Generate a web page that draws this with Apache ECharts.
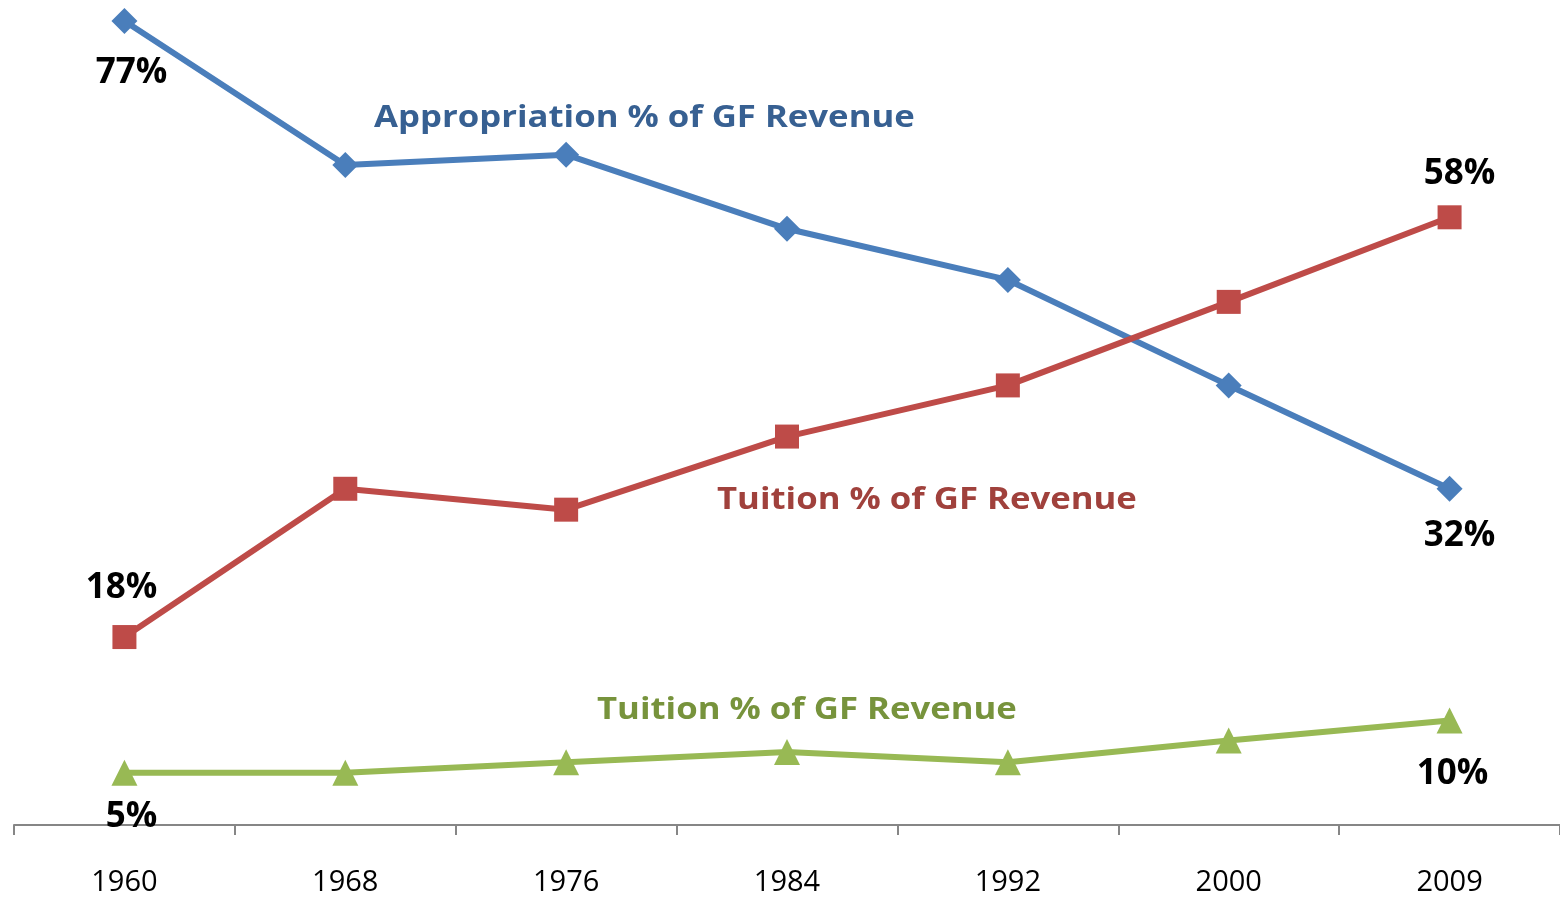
<!DOCTYPE html>
<html><head><meta charset="utf-8">
<script src="https://cdn.jsdelivr.net/npm/echarts@6/dist/echarts.min.js"></script>
<style>html,body{margin:0;padding:0;background:#fff}#c{width:1560px;height:897px}</style>
</head><body><div id="c"></div>
<script>
const years = ['1960','1968','1976','1984','1992','2000','2009'];
const appropriation = [77, 63.2, 64.2, 57.1, 52.2, 42.1, 32.2];
const tuition = [18, 32.2, 30.2, 37.2, 42.1, 50.1, 58.2];
const other = [5, 5, 6, 7, 6, 8.1, 10];
const endLabels = {
  appropriation: ['77%', '32%'],
  tuition: ['18%', '58%'],
  other: ['5%', '10%']
};
const FONT = '"Open Sans"';
function withLabels(vals, labels, first, last){
  return vals.map((v,i)=>{
    if(i===0) return {value:v,label:Object.assign({show:true,formatter:labels[0]},first)};
    if(i===vals.length-1) return {value:v,label:Object.assign({show:true,formatter:labels[1]},last)};
    return v;
  });
}
const labelStyle = {color:'#000',fontFamily:FONT,fontWeight:'bold',fontSize:35};
const chart = echarts.init(document.getElementById('c'));
chart.setOption({
  animation:false,
  grid:{left:14,right:0,top:21,bottom:71,containLabel:false},
  xAxis:{type:'category',data:years,boundaryGap:true,
    axisLine:{lineStyle:{color:'#868686',width:2}},
    axisTick:{show:true,length:10,alignWithLabel:false,lineStyle:{color:'#868686',width:2}},
    axisLabel:{color:'#000',fontFamily:FONT,fontSize:29,margin:43}},
  yAxis:{type:'value',min:0,max:77,show:false,splitLine:{show:false}},
  series:[
    {type:'line',name:'Appropriation % of GF Revenue',
     data:withLabels(appropriation,endLabels.appropriation,
       {position:'bottom',distance:22,offset:[7,0]},{position:'bottom',distance:17,offset:[10,0]}),
     symbol:'diamond',symbolSize:26,lineStyle:{color:'#4A7EBB',width:6},itemStyle:{color:'#4A7EBB'},label:labelStyle},
    {type:'line',name:'Tuition % of GF Revenue',
     data:withLabels(tuition,endLabels.tuition,
       {position:'top',distance:20,offset:[-3,0]},{position:'top',distance:14,offset:[10,0]}),
     symbol:'rect',symbolSize:24,lineStyle:{color:'#BE4B48',width:6},itemStyle:{color:'#BE4B48'},label:labelStyle},
    {type:'line',name:'Other % of GF Revenue',
     data:withLabels(other,endLabels.other,
       {position:'bottom',distance:14,offset:[7,0]},{position:'bottom',distance:23,offset:[3,0]}),
     symbol:'triangle',symbolSize:26,lineStyle:{color:'#98B954',width:6},itemStyle:{color:'#98B954'},label:labelStyle}
  ],
  graphic:[
    {type:'text',x:374,y:118,scaleX:1.12,style:{text:'Appropriation % of GF Revenue',fill:'#376092',font:'bold 31px '+FONT,textVerticalAlign:'middle'}},
    {type:'text',x:717,y:500,scaleX:1.12,style:{text:'Tuition % of GF Revenue',fill:'#A0413C',font:'bold 31px '+FONT,textVerticalAlign:'middle'}},
    {type:'text',x:597,y:710,scaleX:1.12,style:{text:'Tuition % of GF Revenue',fill:'#77933C',font:'bold 31px '+FONT,textVerticalAlign:'middle'}}
  ]
});
</script></body></html>
